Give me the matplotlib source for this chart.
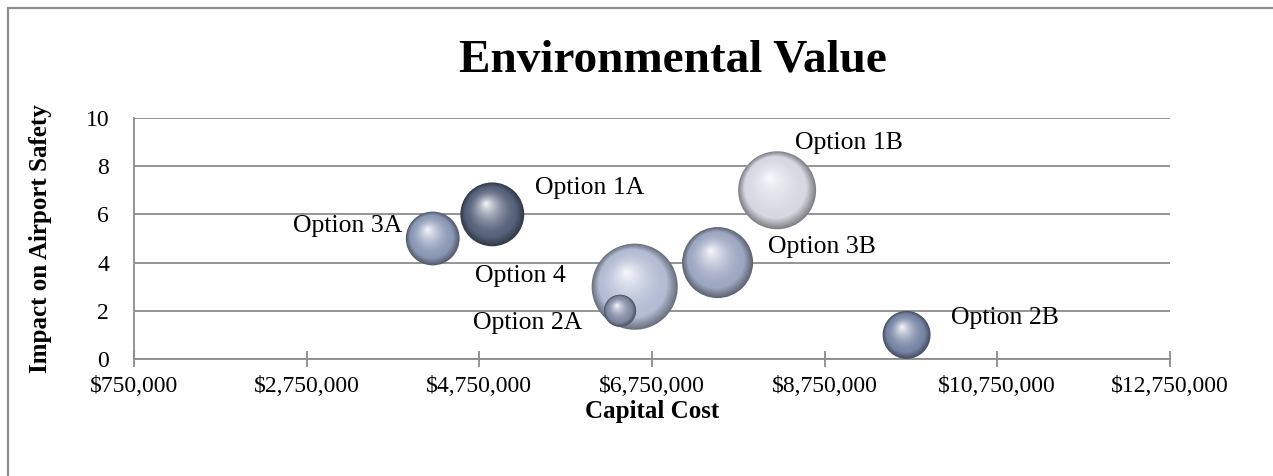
import numpy as np
import matplotlib.pyplot as plt
from matplotlib import transforms
from matplotlib.ticker import FuncFormatter, MultipleLocator
from matplotlib.patches import Rectangle
from matplotlib.colors import to_rgb

# data
options = ["Option 3A", "Option 1A", "Option 4", "Option 2A", "Option 3B", "Option 1B", "Option 2B"]
capital_cost = [4210000, 4900000, 6550000, 6380000, 7510000, 8200000, 9700000]
airport_safety = [5, 6, 3, 2, 4, 7, 1]
bubble_size = [3.9, 5.5, 10.0, 1.4, 6.8, 8.2, 3.1]
bubble_color = ["#8b98b5", "#56617a", "#b3bcd3", "#7f8aa3", "#9ea7c1", "#d6d8e1", "#7785a5"]

# label offsets (points) and alignment
label_dx = [-22, 31, -50, -27, 36, 13, 32]
label_dy = [9, 19, 8, -9, 11, 34, 12]
label_ha = ["right", "left", "right", "right", "left", "left", "left"]

xticks = [750000, 2750000, 4750000, 6750000, 8750000, 10750000, 12750000]

plt.rcParams['font.family'] = ['Liberation Serif', 'DejaVu Serif']

fig = plt.figure(figsize=(12.73, 4.76), dpi=100)
ax = fig.add_axes([0.1053, 0.2458, 0.8137, 0.5064])

# figure frame (only top and left edge show in the reference)
fig.patches.append(Rectangle((8 / 1273, -0.1), 1.2, (476 - 8) / 476 + 0.1,
                             transform=fig.transFigure, fill=False,
                             edgecolor="#8c8c8c", lw=1.6, zorder=0))

max_r = 31.0  # radius of the biggest bubble, points
n_layers = 40
hl = np.array([-0.2, 0.35])  # highlight position relative to radius

for k, (x, y, s, c) in enumerate(zip(capital_cost, airport_safety, bubble_size, bubble_color)):
    r = max_r * np.sqrt(s / max(bubble_size))
    base = np.array(to_rgb(c))
    dark = base * 0.6
    light = np.array([0.98, 0.98, 1.0])
    for i in range(n_layers):
        t = i / n_layers
        ri = r * (1 - t)
        off = hl * r * t
        if t < 0.2:
            col = dark + (base - dark) * (t / 0.2)
        else:
            col = base + (light - base) * ((t - 0.2) / 0.8) ** 1.6
        tr = transforms.offset_copy(ax.transData, fig=fig, x=off[0], y=off[1], units='points')
        ax.scatter([x], [y], s=(2 * ri) ** 2, color=np.clip(col, 0, 1),
                   edgecolors='none', transform=tr, zorder=3 + k * 0.1 + i * 0.001)

for name, x, y, dx, dy, ha in zip(options, capital_cost, airport_safety, label_dx, label_dy, label_ha):
    ax.annotate(name, (x, y), xytext=(dx, dy), textcoords='offset points',
                ha=ha, va='center', fontsize=18.5, zorder=5)

ax.set_xlim(750000, 12750000)
ax.set_ylim(0, 10)
ax.set_xticks(xticks)
ax.xaxis.set_major_formatter(FuncFormatter(lambda v, p: f"${v:,.0f}"))
ax.yaxis.set_major_locator(MultipleLocator(2))
ax.grid(axis='y', color='#8c8c8c', lw=1.3)
ax.set_axisbelow(True)

for side in ['top', 'right']:
    ax.spines[side].set_visible(False)
for side in ['left', 'bottom']:
    ax.spines[side].set_color('#8c8c8c')
    ax.spines[side].set_linewidth(1.3)

ax.tick_params(axis='x', direction='inout', length=11, width=1.3, color='#8c8c8c',
               labelsize=17, pad=7)
ax.tick_params(axis='y', length=0, labelsize=17, pad=18)

ax.set_xlabel("Capital Cost", fontsize=18, fontweight='bold', labelpad=2)
ax.set_ylabel("Impact on Airport Safety", fontsize=18, fontweight='bold', labelpad=24)
fig.text(673 / 1273, 1 - 60 / 476, "Environmental Value", fontsize=34, fontweight='bold',
         ha='center', va='center')

plt.savefig('out.png', dpi=100)
